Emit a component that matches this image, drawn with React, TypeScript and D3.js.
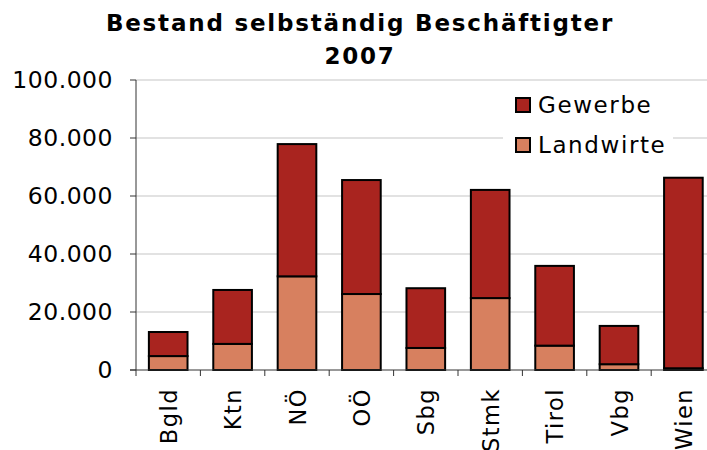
import React from 'react';
import * as d3 from 'd3';

const categories = ['Bgld', 'Ktn', 'NÖ', 'OÖ', 'Sbg', 'Stmk', 'Tirol', 'Vbg', 'Wien'];
const landwirte = [4800, 9000, 32300, 26200, 7600, 24800, 8400, 2000, 600];
const gewerbe = [8300, 18600, 45600, 39300, 20600, 37300, 27500, 13200, 65700];
const yTicks = [0, 20000, 40000, 60000, 80000, 100000];
const seriesNames = ['Landwirte', 'Gewerbe'];
const colors = ['#D7805F', '#A9241F'];

const W = 707;
const H = 450;
const font = '"DejaVu Sans", Verdana, sans-serif';

const App = () => {
  const x = d3.scaleBand().domain(categories).range([136, 715.6]).paddingInner(0.4).paddingOuter(0.2);
  const y = d3.scaleLinear().domain([0, 100000]).range([370, 80]);
  const fmt = (v: number) => d3.format(',')(v).replace(/,/g, '.');

  const rows = categories.map((c, i) => ({ cat: c, Landwirte: landwirte[i], Gewerbe: gewerbe[i] }));
  const stacked = d3.stack<any>().keys(seriesNames)(rows);

  const step = x.step();
  const bounds = categories.map((c) => (x(c) as number) - (step - x.bandwidth()) / 2);
  bounds.push(bounds[bounds.length - 1] + step);

  return (
    <svg width={W} height={H} style={{ position: 'absolute', left: 0, top: 0, background: '#fff' }}>
      <text x={360} y={31} textAnchor="middle" fontFamily={font} fontWeight="bold" fontSize={23} letterSpacing={1.8}>
        Bestand selbständig Beschäftigter
      </text>
      <text x={360} y={64} textAnchor="middle" fontFamily={font} fontWeight="bold" fontSize={23} letterSpacing={1.8}>
        2007
      </text>

      {yTicks.slice(1).map((t) => (
        <line key={'g' + t} x1={136} x2={W} y1={y(t)} y2={y(t)} stroke="#d9d9d9" strokeWidth={1.5} />
      ))}

      {yTicks.map((t) => (
        <g key={'y' + t}>
          <line x1={130} x2={136} y1={y(t)} y2={y(t)} stroke="#333" strokeWidth={1} />
          <text x={113} y={y(t)} dy="0.36em" textAnchor="end" fontFamily={font} fontSize={23.5} letterSpacing={0.5}>
            {fmt(t)}
          </text>
        </g>
      ))}

      {stacked.map((s, si) =>
        s.map((d, i) => (
          <rect
            key={si + '-' + i}
            x={x(categories[i])}
            y={y(d[1])}
            width={x.bandwidth()}
            height={y(d[0]) - y(d[1])}
            fill={colors[si]}
            stroke="#000"
            strokeWidth={2}
          />
        ))
      )}

      <line x1={136} x2={136} y1={80} y2={370} stroke="#333" strokeWidth={1} />
      <line x1={130} x2={W} y1={370} y2={370} stroke="#333" strokeWidth={1} />
      {bounds.map((b, i) => (
        <line key={'xt' + i} x1={b} x2={b} y1={370} y2={376} stroke="#333" strokeWidth={1} />
      ))}

      {categories.map((c) => {
        const cx = (x(c) as number) + x.bandwidth() / 2 + 8.5;
        return (
          <text
            key={'xl' + c}
            transform={`translate(${cx},388) rotate(-90)`}
            textAnchor="end"
            fontFamily={font}
            fontSize={22.5}
            letterSpacing={1.5}
          >
            {c}
          </text>
        );
      })}

      <rect x={503} y={84} width={170} height={76} fill="#fff" />
      {['Gewerbe', 'Landwirte'].map((n, i) => (
        <g key={n} transform={`translate(516,${98 + i * 40})`}>
          <rect width={14} height={14} fill={colors[seriesNames.indexOf(n)]} stroke="#000" strokeWidth={2} />
          <text x={22} y={7} dy="0.36em" fontFamily={font} fontSize={23} letterSpacing={1.6}>
            {n}
          </text>
        </g>
      ))}
    </svg>
  );
};

export default App;
